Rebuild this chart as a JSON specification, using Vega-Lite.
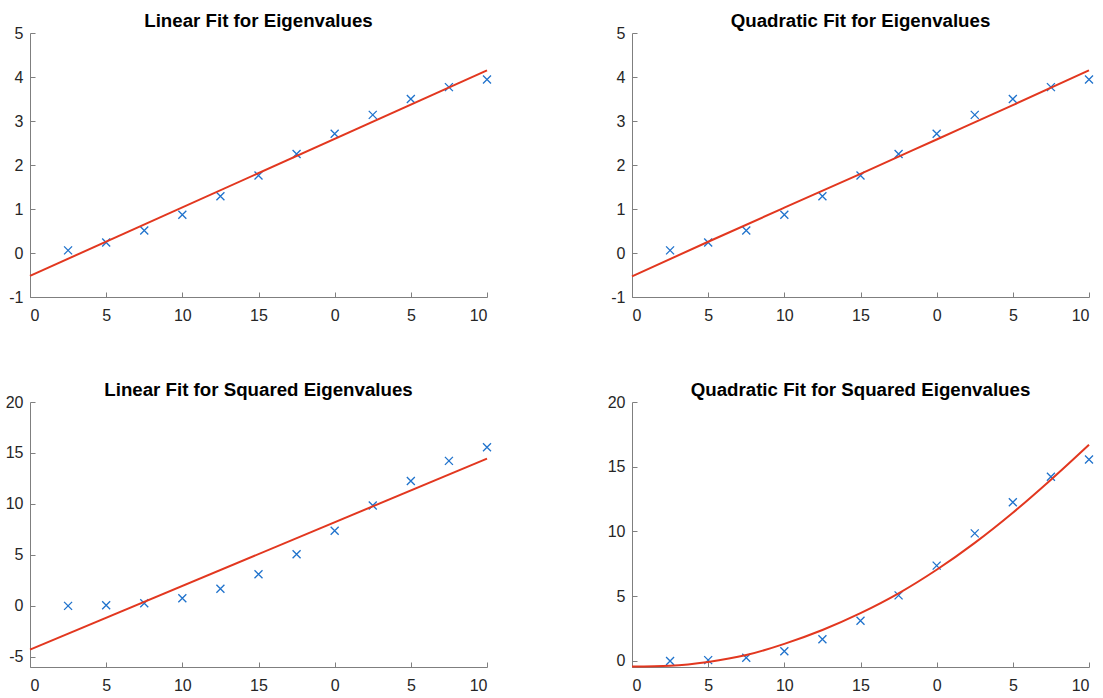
{
  "$schema": "https://vega.github.io/schema/vega-lite/v6.json",
  "padding": {"left": 0, "top": 12, "right": 0, "bottom": 0},
  "background": "white",
  "config": {
    "view": {"stroke": null},
    "font": "Liberation Sans",
    "axis": {
      "grid": false,
      "title": null,
      "domainColor": "#7f7f7f",
      "tickColor": "#7f7f7f",
      "tickSize": -5,
      "labelColor": "#262626",
      "labelFont": "Liberation Sans",
      "labelFontSize": 16
    },
    "axisX": {"labelPadding": 15},
    "axisY": {"labelPadding": 12, "minExtent": 30, "maxExtent": 30},
    "title": {"fontSize": 18.7, "font": "Liberation Sans", "fontWeight": "bold", "color": "#000000", "frame": "group", "anchor": "middle", "baseline": "alphabetic", "offset": -6}
  },
  "datasets": {
    "pts": [
      {"x": 2.5, "v": 0.06, "v2": 0.0},
      {"x": 5, "v": 0.24, "v2": 0.06},
      {"x": 7.5, "v": 0.51, "v2": 0.25},
      {"x": 10, "v": 0.87, "v2": 0.75},
      {"x": 12.5, "v": 1.29, "v2": 1.67},
      {"x": 15, "v": 1.76, "v2": 3.1},
      {"x": 17.5, "v": 2.25, "v2": 5.06},
      {"x": 20, "v": 2.71, "v2": 7.36},
      {"x": 22.5, "v": 3.14, "v2": 9.85},
      {"x": 25, "v": 3.5, "v2": 12.25},
      {"x": 27.5, "v": 3.77, "v2": 14.22},
      {"x": 30, "v": 3.945, "v2": 15.56}
    ],
    "lin1": [{"x": 0, "y": -0.52}, {"x": 30, "y": 4.15}],
    "quad1": [
      {"x": 0, "y": -0.53}, {"x": 5, "y": 0.255}, {"x": 10, "y": 1.03}, {"x": 15, "y": 1.8},
      {"x": 20, "y": 2.58}, {"x": 25, "y": 3.36}, {"x": 30, "y": 4.15}
    ],
    "lin2": [{"x": 0, "y": -4.3}, {"x": 30, "y": 14.45}],
    "quad2": [
      {"x": 0, "y": -0.44}, {"x": 2.5, "y": -0.37}, {"x": 5, "y": -0.08}, {"x": 7.5, "y": 0.45},
      {"x": 10, "y": 1.32}, {"x": 12.5, "y": 2.39}, {"x": 15, "y": 3.69}, {"x": 17.5, "y": 5.22},
      {"x": 20, "y": 7.04}, {"x": 22.5, "y": 9.12}, {"x": 25, "y": 11.45}, {"x": 27.5, "y": 14.0},
      {"x": 30, "y": 16.7}
    ]
  },
  "spacing": 58,
  "vconcat": [
    {
      "spacing": 108,
      "hconcat": [
        {
          "title": "Linear Fit for Eigenvalues",
          "width": 457, "height": 264,
          "layer": [
            {
              "data": {"name": "pts"},
              "mark": {"type": "point", "shape": "M-1,-1L1,1M1,-1L-1,1", "filled": false, "strokeWidth": 1.3, "size": 64, "color": "#1f72cc", "opacity": 1},
              "encoding": {
                "x": {"field": "x", "type": "quantitative", "scale": {"domain": [0, 30]}, "axis": {"values": [0, 5, 10, 15, 20, 25, 30], "labelExpr": "datum.value >= 20 ? '' + (datum.value - 20) : '' + datum.value"}},
                "y": {"field": "v", "type": "quantitative", "scale": {"domain": [-1, 5]}, "axis": {"values": [-1, 0, 1, 2, 3, 4, 5], "labelExpr": "'' + datum.value"}}
              }
            },
            {
              "data": {"name": "lin1"},
              "mark": {"type": "line", "color": "#e2371f", "strokeWidth": 2},
              "encoding": {
                "x": {"field": "x", "type": "quantitative"},
                "y": {"field": "y", "type": "quantitative"}
              }
            }
          ]
        },
        {
          "title": "Quadratic Fit for Eigenvalues",
          "width": 457, "height": 264,
          "layer": [
            {
              "data": {"name": "pts"},
              "mark": {"type": "point", "shape": "M-1,-1L1,1M1,-1L-1,1", "filled": false, "strokeWidth": 1.3, "size": 64, "color": "#1f72cc", "opacity": 1},
              "encoding": {
                "x": {"field": "x", "type": "quantitative", "scale": {"domain": [0, 30]}, "axis": {"values": [0, 5, 10, 15, 20, 25, 30], "labelExpr": "datum.value >= 20 ? '' + (datum.value - 20) : '' + datum.value"}},
                "y": {"field": "v", "type": "quantitative", "scale": {"domain": [-1, 5]}, "axis": {"values": [-1, 0, 1, 2, 3, 4, 5], "labelExpr": "'' + datum.value"}}
              }
            },
            {
              "data": {"name": "quad1"},
              "mark": {"type": "line", "color": "#e2371f", "strokeWidth": 2, "interpolate": "monotone"},
              "encoding": {
                "x": {"field": "x", "type": "quantitative"},
                "y": {"field": "y", "type": "quantitative"}
              }
            }
          ]
        }
      ]
    },
    {
      "spacing": 108,
      "hconcat": [
        {
          "title": "Linear Fit for Squared Eigenvalues",
          "width": 457, "height": 265,
          "layer": [
            {
              "data": {"name": "pts"},
              "mark": {"type": "point", "shape": "M-1,-1L1,1M1,-1L-1,1", "filled": false, "strokeWidth": 1.3, "size": 64, "color": "#1f72cc", "opacity": 1},
              "encoding": {
                "x": {"field": "x", "type": "quantitative", "scale": {"domain": [0, 30]}, "axis": {"values": [0, 5, 10, 15, 20, 25, 30], "labelExpr": "datum.value >= 20 ? '' + (datum.value - 20) : '' + datum.value"}},
                "y": {"field": "v2", "type": "quantitative", "scale": {"domain": [-5, 20]}, "axis": {"values": [-5, 0, 5, 10, 15, 20], "labelExpr": "'' + datum.value"}}
              }
            },
            {
              "data": {"name": "lin2"},
              "mark": {"type": "line", "color": "#e2371f", "strokeWidth": 2},
              "encoding": {
                "x": {"field": "x", "type": "quantitative"},
                "y": {"field": "y", "type": "quantitative"}
              }
            }
          ]
        },
        {
          "title": "Quadratic Fit for Squared Eigenvalues",
          "width": 457, "height": 265,
          "layer": [
            {
              "data": {"name": "pts"},
              "mark": {"type": "point", "shape": "M-1,-1L1,1M1,-1L-1,1", "filled": false, "strokeWidth": 1.3, "size": 64, "color": "#1f72cc", "opacity": 1},
              "encoding": {
                "x": {"field": "x", "type": "quantitative", "scale": {"domain": [0, 30]}, "axis": {"values": [0, 5, 10, 15, 20, 25, 30], "labelExpr": "datum.value >= 20 ? '' + (datum.value - 20) : '' + datum.value"}},
                "y": {"field": "v2", "type": "quantitative", "scale": {"domain": [-0.47, 20], "nice": false, "zero": false}, "axis": {"values": [0, 5, 10, 15, 20], "labelExpr": "'' + datum.value"}}
              }
            },
            {
              "data": {"name": "quad2"},
              "mark": {"type": "line", "color": "#e2371f", "strokeWidth": 2, "interpolate": "monotone"},
              "encoding": {
                "x": {"field": "x", "type": "quantitative"},
                "y": {"field": "y", "type": "quantitative"}
              }
            }
          ]
        }
      ]
    }
  ]
}
